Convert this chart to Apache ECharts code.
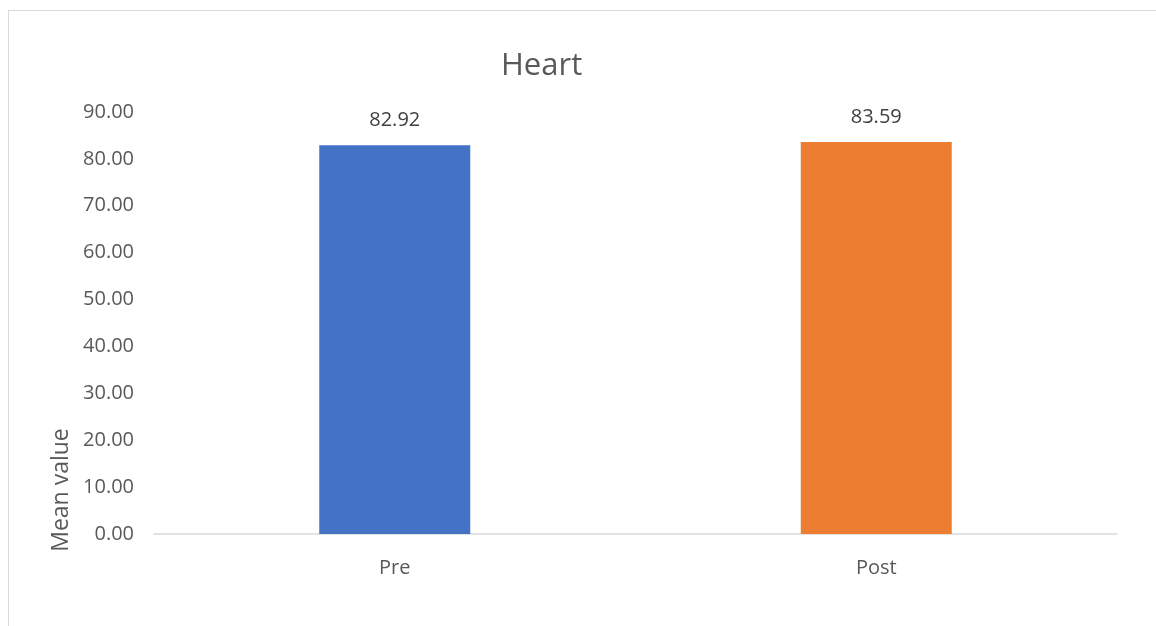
<!DOCTYPE html>
<html><head><meta charset="utf-8">
<script src="https://cdn.jsdelivr.net/npm/echarts@6/dist/echarts.min.js"></script>
<style>
html,body{margin:0;padding:0;background:#fff;}
#frame{position:absolute;left:8px;top:10px;width:1200px;height:700px;border-left:1px solid #d9d9d9;border-top:1px solid #d9d9d9;}
#c{position:absolute;left:0;top:0;width:1156px;height:626px;}
</style></head>
<body><div id="frame"></div><div id="c"></div>
<script>
const categories = ["Pre", "Post"];
const values = [82.92, 83.59];
const colors = ["#4472c4", "#ed7d31"];
const titleText = "Heart";
const yName = "Mean value";

const font = "'Open Sans', 'Noto Sans', sans-serif";
const chart = echarts.init(document.getElementById('c'));
chart.setOption({
  animation: false,
  backgroundColor: 'transparent',
  title: { text: titleText, left: 496, top: 46, textStyle: { fontFamily: font, fontSize: 31, fontWeight: 'normal', color: '#595959' } },
  grid: { left: 154, right: 39, top: 112, bottom: 92 },
  xAxis: {
    type: 'category', data: categories,
    axisLine: { lineStyle: { color: '#d9d9d9', width: 1.5 } },
    axisTick: { show: false },
    axisLabel: { fontFamily: font, fontSize: 20, color: '#595959', margin: 24 }
  },
  yAxis: {
    type: 'value', min: 0, max: 90, interval: 10,
    splitLine: { show: false }, axisLine: { show: false }, axisTick: { show: false },
    axisLabel: { fontFamily: font, fontSize: 20, color: '#595959', margin: 20, formatter: v => v.toFixed(2) }
  },
  graphic: [{
    type: 'text', x: 61, y: 490, rotation: Math.PI / 2,
    style: { text: yName, fontFamily: font, fontSize: 23, fill: '#595959', align: 'center', verticalAlign: 'middle' }
  }],
  series: [{
    type: 'bar', barWidth: 151,
    data: values.map((v, i) => ({ value: v, itemStyle: { color: colors[i] } })),
    label: { show: true, position: 'top', distance: 15, fontFamily: font, fontSize: 20, color: '#404040', formatter: p => p.value.toFixed(2) }
  }]
});
</script></body></html>
